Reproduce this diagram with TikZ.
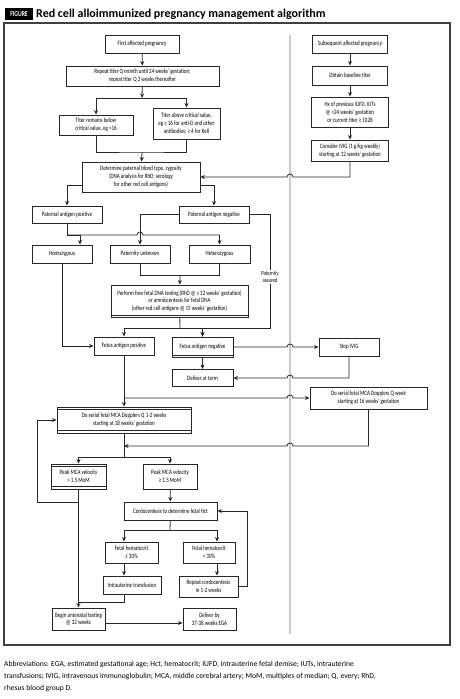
\documentclass[tikz,border=0pt]{standalone}
\usepackage{fontspec}
\setmainfont{Carlito}
\newfontfamily\boxfont[FakeStretch=0.76]{Carlito}
\usepackage{tikz}
\usetikzlibrary{arrows.meta, calc}

% little jumps where a line crosses another one
\newcommand{\hopr}{arc[start angle=180,end angle=0,radius=3pt]}
\newcommand{\hopl}{arc[start angle=0,end angle=180,radius=3pt]}

\begin{document}
\begin{tikzpicture}[
    x=1pt, y=-1pt,
    >={Stealth[length=4.5pt,width=4pt]},
    box/.style={
        rectangle,
        draw=black!85,
        line width=0.9pt,
        fill=white,
        align=center,
        inner sep=1pt,
        font=\boxfont\fontsize{6.6}{7.8}\selectfont
    },
    wh/.style 2 args={minimum width=#1pt, minimum height=#2pt},
    banded/.style={path picture={
        \draw[line width=0.6pt] ([yshift=-2.5pt]path picture bounding box.north west) -- ([yshift=-2.5pt]path picture bounding box.north east);
        \draw[line width=0.6pt] ([yshift=2.5pt]path picture bounding box.south west) -- ([yshift=2.5pt]path picture bounding box.south east);
    }},
    heavy/.style={path picture={
        \draw[line width=1.2pt] ([yshift=1.2pt]path picture bounding box.south west) -- ([yshift=1.2pt]path picture bounding box.south east);
    }},
    link/.style={draw=black!85, line width=0.8pt},
    lbl/.style={fill=white, inner sep=1pt, align=center, font=\boxfont\fontsize{6.2}{7.5}\selectfont},
    divider/.style={draw=black!20, line width=1.2pt}
]
\useasboundingbox (0,0) rectangle (460,699);

% heading
\node[fill=black, text=white, inner sep=0pt, minimum width=28pt, minimum height=12pt,
      font=\boxfont\bfseries\fontsize{7.5}{8}\selectfont] (tag) at (19,14) {FIGURE};
\node[anchor=west, inner sep=0pt, font=\bfseries\fontsize{12}{13}\selectfont] (title) at (36,14.5)
    {Red cell alloimmunized pregnancy management algorithm};

% frame and divider
\draw[draw=black!75, line width=1.3pt] (4,23) rectangle (450,645);
\coordinate (divtop) at (290,35);
\coordinate (divbot) at (290,634);
\draw[divider] (divtop) -- (divbot);
\coordinate (hopL) at (287,35);
\coordinate (hopR) at (293,35);

% first affected pregnancy
\node[box, wh={74}{18}] (first) at (142,44) {First affected pregnancy};
\node[box, wh={153}{20}] (repeat) at (142.5,76) {Repeat titer Q month until 24 weeks' gestation;\\repeat titer Q 2 weeks thereafter};
\node[box, wh={74}{20}] (below) at (96,125) {Titer remains below\\critical value, eg <16};
\node[box, wh={67}{31}] (above) at (186.5,123.5) {Titer above critical value,\\eg ≥ 16 for anti-D and other\\antibodies; ≥ 4 for Kell};
\node[box, wh={118}{30}] (determine) at (141,177) {Determine paternal blood type, zygosity\\(DNA analysis for RhD; serology\\for other red cell antigens)};
\node[box, wh={70}{17}] (patpos) at (67,214.5) {Paternal antigen positive};
\node[box, wh={70}{17}] (patneg) at (214,214.5) {Paternal antigen negative};
\node[box, wh={60}{18}] (homo) at (62,254) {Homozygous};
\node[box, wh={60}{18}] (unknown) at (140,254) {Paternity unknown};
\node[box, wh={61}{18}] (hetero) at (219.5,254) {Heterozygous};
\node[box, heavy, wh={137}{32}] (perform) at (179.5,301) {Perform free fetal DNA testing (RhD @ ≥ 12 weeks' gestation)\\or amniocentesis for fetal DNA\\(other red cell antigens @ 15 weeks' gestation)};
\node[box, wh={60}{18}] (fetpos) at (124,346) {Fetus antigen positive};
\node[box, heavy, wh={61}{20}] (fetneg) at (202.5,347) {Fetus antigen negative};
\node[box, wh={61}{17}] (dterm) at (202.5,378) {Deliver at term};
\node[box, banded, wh={134}{26}] (serial) at (124,420) {Do serial fetal MCA Dopplers Q 1-2 weeks\\starting at 18 weeks' gestation};
\node[box, banded, wh={55}{25}] (peaklow) at (78.5,476.5) {Peak MCA velocity\\< 1.5 MoM};
\node[box, wh={54}{25}] (peakhigh) at (170,476.5) {Peak MCA velocity\\≥ 1.5 MoM};
\node[box, wh={93}{18}] (cordo) at (170.5,511) {Cordocentesis to determine fetal Hct};
\node[box, wh={53}{21}] (hctlow) at (131.5,552.5) {Fetal hematocrit\\≤ 30\%};
\node[box, wh={52}{21}] (hcthigh) at (209,552.5) {Fetal hematocrit\\> 30\%};
\node[box, wh={58}{18}] (iut) at (132,585) {Intrauterine transfusion};
\node[box, wh={59}{21}] (repeatc) at (208.5,586.5) {Repeat cordocentesis\\in 1-2 weeks};
\node[box, wh={53}{22}] (begin) at (78.5,619) {Begin antenatal testing\\@ 32 weeks};
\node[box, wh={53}{22}] (deliverby) at (209.5,619) {Deliver by\\37-38 weeks EGA};

% subsequent affected pregnancy
\node[box, wh={75}{18}] (subsequent) at (350,44) {Subsequent affected pregnancy};
\node[box, wh={75}{19}] (obtain) at (350,75.5) {Obtain baseline titer};
\node[box, wh={77}{30}] (hx) at (350,112) {Hx of previous IUFD, IUTs\\@ <24 weeks' gestation\\or current titer ≥ 1028};
\node[box, wh={77}{21}] (consider) at (350,150.5) {Consider IVIG (1 g/kg weekly)\\starting at 12 weeks' gestation};
\node[box, wh={60}{18}] (stop) at (349,347) {Stop IVIG};
\node[box, wh={117}{22}] (weekly) at (368.5,398) {Do serial fetal MCA Dopplers Q week\\starting at 16 weeks' gestation};

% junctions
\coordinate (j1) at (142,98);
\coordinate (j2) at (142,152);
\coordinate (pj) at (67,235);
\coordinate (uh) at (137,235);
\coordinate (uj) at (180,275);
\coordinate (pa) at (270,328);
\coordinate (fj) at (180,328);
\coordinate (fp2) at (124,398);
\coordinate (sj) at (124,446);
\coordinate (mj) at (124,457);
\coordinate (lj) at (78.5,502);
\coordinate (lx) at (37,502);
\coordinate (cj) at (170,530);
\coordinate (rx) at (247,586.5);
\coordinate (bj) at (78.5,602);

% titers
\draw[link,->] (first) -- (repeat);
\draw[link,->] (repeat) -- (j1);
\draw[link,->] (j1) -| (below);
\draw[link,->] (j1) -| (above);
\draw[link] (below) |- (j2) -| (above);
\draw[link,->] (j2) -- (determine);

% paternal typing
\draw[link,->] ([yshift=7pt]determine.south west) -| (patpos);
\draw[link,->] ([yshift=7pt]determine.south east) -| (patneg);
\draw[link] (patpos) -- (pj);
\draw[link,->] (pj) -| ([xshift=18pt]homo.north);
\draw[link,->] (pj) -- (uh) \hopr -- (hetero.north |- pj) -- (hetero);
\draw[link,->] (patneg.west) -| (unknown);
\draw[link,->] (patneg.east) -| (pa) -| (fetneg);
\node[lbl] (assured) at (270,277) {Paternity\\assured};
\draw[link] (unknown) |- (hetero.south |- uj) -- (hetero);
\draw[link,->] (uj) -- (perform);
\draw[link] (perform) -- (fj);
\draw[link,->] (fj) -| (fetpos);
\draw[link,->] (fj) -| (fetneg);
\draw[link,->] (homo) |- (fetpos);
\draw[link,->] (fetneg) -- (dterm);

% surveillance
\draw[link,->] (fetpos) -- (serial);
\draw[link,->] (fp2) -- (hopL |- fp2) \hopr -- (weekly.west |- fp2);
\draw[link,->] (weekly.south) |- (hopR |- sj) \hopl -- (sj);
\draw[link] (serial) -- (mj);
\draw[link,->] (mj) -| (peaklow);
\draw[link,->] (mj) -| (peakhigh);
\draw[link,->] (peaklow) -- (begin);
\draw[link,->] (lj) -- (lx) |- (serial.west);
\draw[link,->] (peakhigh) -- (cordo);
\draw[link] (cordo) -- (cj);
\draw[link,->] (cj) -| ([xshift=-7.5pt]hctlow.north);
\draw[link,->] (cj) -| ([xshift=8pt]hcthigh.north);
\draw[link,->] ([xshift=-7.5pt]hctlow.south) -- ([xshift=-8pt]iut.north);
\draw[link,->] ([xshift=8pt]hcthigh.south) -- ([xshift=8.5pt]repeatc.north);
\draw[link,->] (repeatc.east) -- (rx) |- (cordo.east);
\draw[link] ([xshift=-8pt]iut.south) |- (bj);
\draw[link,->] ([yshift=-4pt]begin.east) -- ([yshift=-4pt]deliverby.west);

% right column
\draw[link,->] (subsequent) -- (obtain);
\draw[link,->] (obtain) -- (hx);
\draw[link,->] (hx) -- (consider);
\draw[link,->] (consider.south) |- (hopR |- determine.east) \hopl -- (determine.east);
\draw[link,->] (fetneg.east) -- (hopL |- fetneg.east) \hopr -- (stop.west);
\draw[link,->] (stop.south) |- (hopR |- dterm.east) \hopl -- (dterm.east);

% abbreviations
\node[anchor=north west, align=left, inner sep=0pt, font=\fontsize{7.6}{12}\selectfont] (abbr) at (4,661)
    {Abbreviations: EGA, estimated gestational age; Hct, hematocrit; IUFD, intrauterine fetal demise; IUTs, intrauterine\\
     transfusions; IVIG, intravenous immunoglobulin; MCA, middle cerebral artery; MoM, multiples of median; Q, every; RhD,\\
     rhesus blood group D.};

\end{tikzpicture}
\end{document}
